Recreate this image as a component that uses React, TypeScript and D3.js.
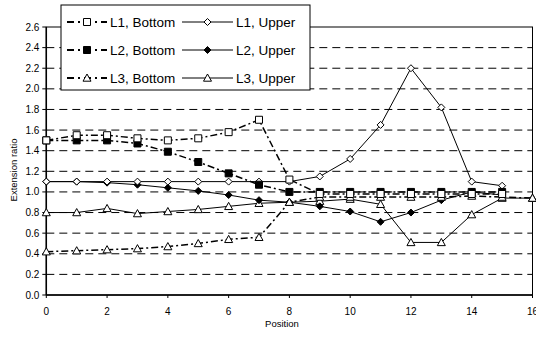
import { FC } from "react";
import * as d3 from "d3";

const l1Bottom = [1.5, 1.55, 1.55, 1.52, 1.5, 1.52, 1.58, 1.7, 1.12, 0.98, 0.98, 0.98, 0.98, 0.98, 0.98, 0.98];
const l2Bottom = [1.5, 1.5, 1.5, 1.47, 1.39, 1.29, 1.18, 1.07, 1.0, 1.0, 1.0, 1.0, 1.0, 1.0, 1.0, 1.0];
const l3Bottom = [0.42, 0.43, 0.44, 0.45, 0.47, 0.5, 0.54, 0.56, 0.9, 0.95, 0.95, 0.95, 0.95, 0.95, 0.96, 0.95, 0.94];
const l1Upper = [1.1, 1.1, 1.1, 1.1, 1.1, 1.1, 1.1, 1.1, 1.1, 1.15, 1.32, 1.65, 2.2, 1.82, 1.1, 1.06];
const l2Upper = [1.1, 1.1, 1.09, 1.07, 1.04, 1.01, 0.97, 0.92, 0.9, 0.86, 0.81, 0.71, 0.8, 0.92, 1.0, 0.97];
const l3Upper = [0.8, 0.8, 0.84, 0.79, 0.81, 0.83, 0.86, 0.89, 0.9, 0.91, 0.93, 0.88, 0.51, 0.51, 0.78, 0.94, 0.94];

const yTicks = d3.range(0, 2.61, 0.2);
const xTicks = d3.range(0, 17, 2);

type Marker = "square" | "diamond" | "triangle";
type Series = { name: string; values: number[]; marker: Marker; filled: boolean; bottom: boolean };

const series: Series[] = [
  { name: "L3, Upper", values: l3Upper, marker: "triangle", filled: false, bottom: false },
  { name: "L2, Upper", values: l2Upper, marker: "diamond", filled: true, bottom: false },
  { name: "L1, Upper", values: l1Upper, marker: "diamond", filled: false, bottom: false },
  { name: "L3, Bottom", values: l3Bottom, marker: "triangle", filled: false, bottom: true },
  { name: "L2, Bottom", values: l2Bottom, marker: "square", filled: true, bottom: true },
  { name: "L1, Bottom", values: l1Bottom, marker: "square", filled: false, bottom: true },
];

const legendOrder = [
  ["L1, Bottom", "L1, Upper"],
  ["L2, Bottom", "L2, Upper"],
  ["L3, Bottom", "L3, Upper"],
];

const markerPath = (m: Marker) => {
  if (m === "square") return "M-3.5,-3.5H3.5V3.5H-3.5Z";
  if (m === "diamond") return "M0,-3.5L3.5,0L0,3.5L-3.5,0Z";
  return "M0,-4L4,3.2H-4Z";
};

const font = "Liberation Sans, Arial, sans-serif";

const Chart: FC = () => {
  const x = d3.scaleLinear().domain([0, 16]).range([46.3, 532.5]);
  const y = d3.scaleLinear().domain([0, 2.6]).range([295, 27]);
  const line = d3
    .line<number>()
    .x((_, i) => x(i))
    .y((d) => y(d));

  const byName = (n: string) => series.find((s) => s.name === n)!;

  const drawMarker = (s: Series, cx: number, cy: number, key: string | number) => (
    <path
      key={key}
      d={markerPath(s.marker)}
      transform={`translate(${cx},${cy})`}
      fill={s.filled ? "#000" : "#fff"}
      stroke="#000"
      strokeWidth={1}
    />
  );

  return (
    <svg width={536} height={337} style={{ position: "absolute", left: 0, top: 0 }}>
      <rect width={536} height={337} fill="#fff" />
      {yTicks.slice(1, -1).map((t) => (
        <line
          key={t}
          x1={x(0)}
          x2={x(16)}
          y1={y(t)}
          y2={y(t)}
          stroke="#000"
          strokeWidth={1}
          strokeDasharray="8,5"
        />
      ))}
      <rect x={x(0)} y={y(2.6)} width={x(16) - x(0)} height={y(0) - y(2.6)} fill="none" stroke="#000" strokeWidth={1} />
      <line x1={x(0)} x2={x(0)} y1={y(0)} y2={y(2.6)} stroke="#000" strokeWidth={1.5} />
      <line x1={x(0)} x2={x(16)} y1={y(0)} y2={y(0)} stroke="#000" strokeWidth={1.5} />
      {yTicks.map((t) => (
        <g key={t}>
          <line x1={x(0) - 4} x2={x(0)} y1={y(t)} y2={y(t)} stroke="#000" />
          <text x={x(0) - 7} y={y(t)} dy="0.35em" textAnchor="end" fontSize={10} fontFamily={font} fill="#000">
            {t.toFixed(1)}
          </text>
        </g>
      ))}
      {xTicks.map((t) => (
        <g key={t}>
          <line x1={x(t)} x2={x(t)} y1={y(0)} y2={y(0) + 3} stroke="#000" />
          <text x={x(t)} y={y(0) + 20} textAnchor="middle" fontSize={10} fontFamily={font} fill="#000">
            {t}
          </text>
        </g>
      ))}
      <text x={282} y={327} textAnchor="middle" fontSize={9.5} fontFamily={font}>
        Position
      </text>
      <text
        transform="translate(17,170) rotate(-90)"
        textAnchor="middle"
        fontSize={9.5}
        fontFamily={font}
      >
        Extension ratio
      </text>

      {series.map((s) => (
        <path
          key={s.name}
          d={line(s.values)!}
          fill="none"
          stroke="#000"
          strokeWidth={s.bottom ? 1.5 : 1}
          strokeDasharray={s.bottom ? "7,3,2,3" : undefined}
        />
      ))}
      {series.map((s) => (
        <g key={s.name + "m"}>{s.values.map((v, i) => drawMarker(s, x(i), y(v), i))}</g>
      ))}

      <rect x={61} y={5} width={249} height={85} fill="#fff" stroke="#000" strokeWidth={1} />
      {legendOrder.map((row, r) =>
        row.map((name, c) => {
          const s = byName(name);
          const ly = 22 + r * 28;
          const x0 = c === 0 ? 67 : 182;
          const x1 = c === 0 ? 107 : 233;
          const mx = (x0 + x1) / 2;
          return (
            <g key={name}>
              <line
                x1={x0}
                x2={x1}
                y1={ly}
                y2={ly}
                stroke="#000"
                strokeWidth={s.bottom ? 2 : 1}
                strokeDasharray={s.bottom ? "7,4,2,4" : undefined}
              />
              {drawMarker(s, mx, ly, "lm")}
              <text x={x1 + 3} y={ly} dy="0.35em" fontSize={13.5} fontFamily={font}>
                {name}
              </text>
            </g>
          );
        })
      )}
    </svg>
  );
};

export default function App() {
  return <Chart />;
}
